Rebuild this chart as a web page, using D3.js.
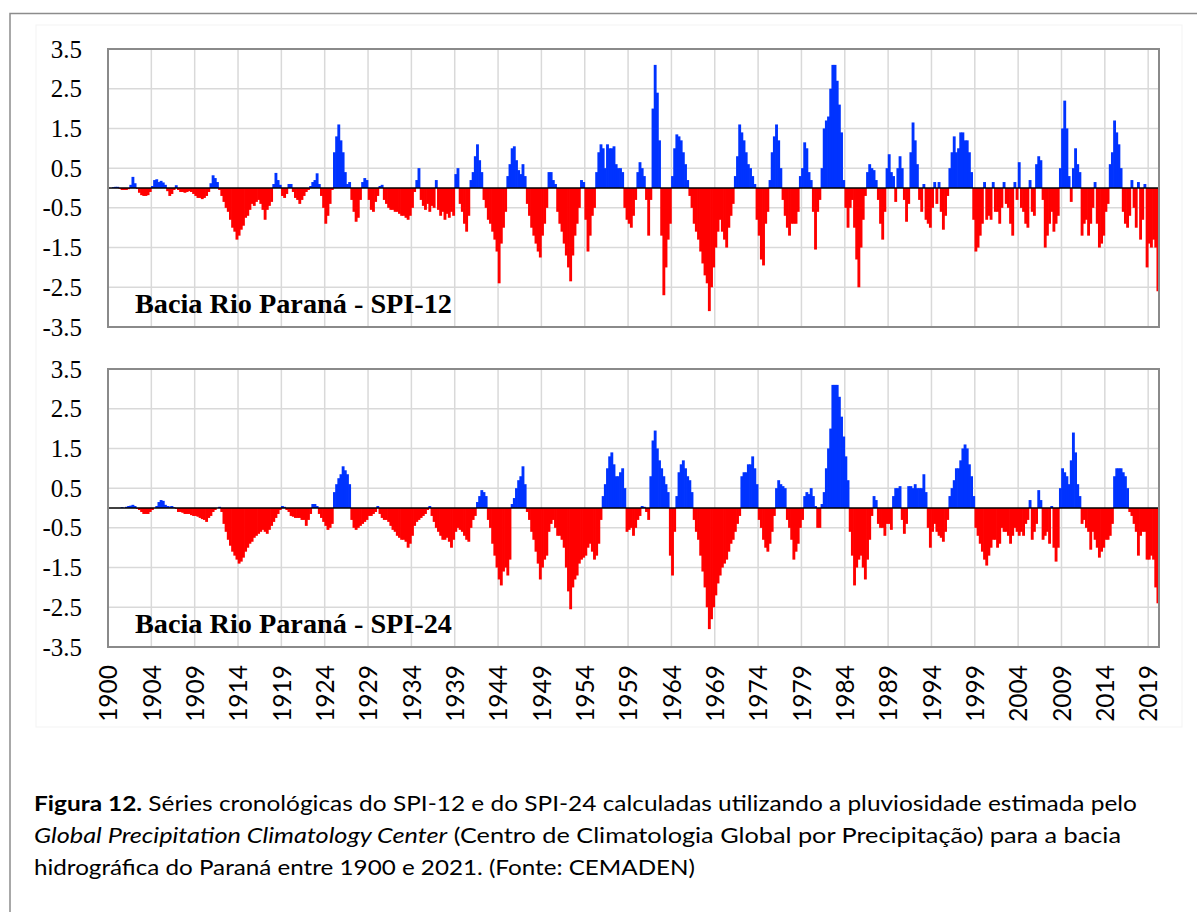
<!DOCTYPE html>
<html>
<head>
<meta charset="utf-8">
<script src="https://cdn.jsdelivr.net/npm/d3@7"></script>
<style>
  body { margin: 0; background: #fff; }
  svg { display: block; }
</style>
</head>
<body>
<svg id="fig" width="1197" height="912"></svg>
<script>
// ---- data -------------------------------------------------------------
// SPI values, one value per quarter starting Jan 1900 (rows = years)
const monthsPerValue = 3;

const panelTitles = ["Bacia Rio Paraná - SPI-12", "Bacia Rio Paraná - SPI-24"];

const yTickValues = [3.5, 2.5, 1.5, 0.5, -0.5, -1.5, -2.5, -3.5];

const xTickLabels = ["1900", "1904", "1909", "1914", "1919", "1924", "1929", "1934",
  "1939", "1944", "1949", "1954", "1959", "1964", "1969", "1974", "1979", "1984",
  "1989", "1994", "1999", "2004", "2009", "2014", "2019"];

const spi12 = [
  0, 0, 0.02, 0.03,   0.03, -0.02, -0.05, -0.05,   -0.05, -0.03, 0.08, 0.28,
  0.12, -0.02, -0.12, -0.18,   -0.2, -0.2, -0.18, -0.1,   0.05, 0.2, 0.22, 0.15,
  0.18, 0.14, 0.08, -0.08,   -0.2, -0.15, -0.05, 0.07,   -0.05, -0.1, -0.1, -0.12,
  -0.1, -0.08, -0.1, -0.15,   -0.2, -0.25, -0.25, -0.28,   -0.25, -0.2, -0.1, 0.12,
  0.32, 0.25, 0.15, -0.05,   -0.2, -0.35, -0.5, -0.6,   -0.8, -1.0, -1.1, -1.3,
  -1.2, -1.05, -0.95, -0.75,   -0.7, -0.55, -0.4, -0.45,   -0.35, -0.3, -0.4, -0.55,
  -0.8, -0.55, -0.45, -0.35,   0.1, 0.38, 0.2, 0.08,   -0.2, -0.25, -0.15, 0.1,
  0.1, -0.1, -0.25, -0.3,   -0.4, -0.3, -0.2, -0.1,   -0.05, 0.05, 0.15, 0.2,
  0.37, 0.1, -0.2, -0.5,   -0.9, -0.7, -0.4, -0.05,   0.9, 1.3, 1.6, 1.2,
  0.9, 0.4, 0.1, 0.15,   -0.3, -0.6, -0.85, -0.75,   -0.3, 0.15, 0.25, 0.2,
  -0.3, -0.55, -0.6, -0.35,   -0.2, 0.05, 0.08, -0.3,   -0.4, -0.5, -0.55, -0.55,
  -0.6, -0.6, -0.65, -0.7,   -0.7, -0.75, -0.8, -0.7,   -0.5, -0.1, 0.2, 0.5,
  -0.3, -0.45, -0.55, -0.4,   -0.6, -0.45, -0.5, 0.2,   -0.55, -0.7, -0.6, -0.8,
  -0.65, -0.75, -0.6, -0.7,   0.35, 0.5, -0.4, -0.6,   -0.9, -1.1, -0.7, 0.2,
  0.4, 0.8, 1.1, 0.7,   0.4, -0.3, -0.5, -0.8,   -0.9, -1.1, -1.3, -1.6,
  -2.4, -1.4, -1.0, -0.6,   0.3, 0.6, 1.0, 1.05,   0.7, 0.45, 0.35, 0.6,
  0.3, -0.4, -0.7, -1.0,   -1.2, -1.4, -1.6, -1.75,   -1.2, -0.9, -0.5, 0.4,
  0.4, 0.2, 0.1, -0.6,   -0.9, -1.1, -1.4, -1.7,   -2.0, -2.35, -1.7, -1.2,
  -0.9, -0.5, 0.2, 0.15,   -0.8, -1.6, -1.2, -0.7,   -0.5, 0.4, 0.9, 1.1,
  1.0, 0.5, 1.1, 1.0,   1.0, 1.05, 0.6, 0.5,   0.5, 0.4, -0.5, -0.8,
  -0.9, -1.0, -0.7, -0.3,   0.4, 0.65, 0.5, 0.3,   -0.3, -1.2, -0.3, 2.0,
  3.1, 2.4, 1.2, -1.2,   -2.7, -2.0, -1.3, -0.9,   0.3, 1.0, 1.35, 1.3,
  1.2, 0.9, 0.6, 0.2,   -0.2, -0.5, -0.9, -1.1,   -1.3, -1.6, -1.9, -2.2,
  -2.4, -3.1, -2.5, -2.0,   -1.5, -1.1, -0.8, -1.1,   -1.3, -1.5, -1.0, -0.7,
  -0.4, 0.3, 0.8, 1.6,   1.4, 1.2, 0.9, 0.6,   0.5, 0.3, 0.1, -0.8,
  -1.2, -1.8, -1.95, -0.9,   -0.6, 0.2, 0.9, 1.3,   1.6, 1.2, 0.5, -0.3,
  -0.7, -1.0, -1.2, -0.9,   -0.9, -0.9, -0.6, 0.3,   0.5, 1.15, 1.0, 0.4,
  0.2, -0.6, -1.55, -0.6,   -0.3, 0.5, 1.5, 1.7,   1.8, 2.5, 3.1, 3.1,
  2.7, 2.1, 1.4, 0.2,   -0.5, -1.0, -0.5, -0.3,   -1.0, -1.8, -2.5, -1.5,
  -0.8, -0.2, 0.4, 0.6,   0.5, 0.45, 0.2, -0.3,   -0.9, -1.3, -0.6, 0.5,
  0.85, 0.4, 0.3, -0.35,   0.5, 0.8, 0.5, -0.3,   -0.85, -0.4, 0.9, 1.65,
  1.2, 0.6, -0.3, -0.6,   0.1, -0.8, -0.9, -1.0,   -0.5, 0.15, -0.4, 0.15,
  -0.6, -1.05, -0.7, -0.2,   0.5, 0.9, 1.3, 0.9,   1.0, 1.4, 1.4, 1.2,
  1.2, 0.9, 0.4, -0.8,   -1.6, -1.5, -1.2, -0.9,   0.15, -0.8, -0.7, -0.8,
  0.15, -0.6, -0.6, -0.9,   -0.5, 0.15, -0.4, -0.5,   -0.9, -1.2, 0.15, -0.3,
  0.65, -0.5, -0.6, -0.9,   -1.0, 0.2, -0.6, -0.7,   0.6, 0.8, 0.7, -0.3,
  -1.5, -1.2, -0.9, -0.6,   -1.1, -0.9, -0.7, 0.5,   1.5, 2.2, 1.5, 0.3,
  -0.35, 0.5, 1.0, 0.6,   0.4, -1.2, -0.9, -0.8,   -1.2, -0.9, -0.5, 0.15,
  -0.9, -1.5, -1.4, -1.2,   -0.6, -0.4, 0.6, 0.9,   1.7, 1.4, 1.1, 0.5,
  -0.6, -0.9, -1.0, -0.7,   0.2, -0.5, -1.0, 0.15,   -1.3, -0.8, 0.1, -2.0,
  -1.4, -1.5, -1.3, -1.5,   -2.6
];

const spi24 = [
  0, 0, 0, 0,   0, 0, 0.02, 0,   0.03, 0.05, 0.06, 0.08,
  0.05, -0.02, -0.05, -0.1,   -0.15, -0.15, -0.15, -0.1,   -0.05, 0, 0.05, 0.15,
  0.2, 0.18, 0.08, 0.05,   0.04, 0.05, 0.02, -0.02,   -0.1, -0.1, -0.12, -0.15,
  -0.15, -0.15, -0.18, -0.2,   -0.2, -0.22, -0.25, -0.28,   -0.3, -0.35, -0.25, -0.2,
  -0.1, -0.05, 0, 0.03,   -0.1, -0.4, -0.6, -0.8,   -0.95, -1.1, -1.2, -1.3,
  -1.4, -1.35, -1.25, -1.1,   -1.0, -0.9, -0.85, -0.75,   -0.7, -0.65, -0.6, -0.55,
  -0.6, -0.65, -0.55, -0.45,   -0.35, -0.25, -0.15, -0.05,   0.05, 0.03, -0.05, -0.1,
  -0.2, -0.22, -0.25, -0.25,   -0.25, -0.3, -0.3, -0.45,   -0.3, -0.15, 0.1, 0.1,
  0.05, -0.15, -0.25, -0.35,   -0.45, -0.55, -0.5, -0.4,   0.4, 0.6, 0.75, 0.85,
  1.05, 0.95, 0.85, 0.6,   -0.3, -0.5, -0.55, -0.5,   -0.45, -0.4, -0.35, -0.3,
  -0.2, -0.2, -0.15, -0.1,   0.05, -0.15, -0.25, -0.3,   -0.3, -0.35, -0.45, -0.55,
  -0.6, -0.7, -0.75, -0.8,   -0.8, -0.85, -1.0, -0.9,   -0.7, -0.45, -0.35, -0.3,
  -0.25, -0.2, -0.15, -0.05,   0.05, -0.2, -0.35, -0.5,   -0.6, -0.7, -0.8, -0.8,
  -0.75, -0.85, -1.0, -0.8,   -0.6, -0.5, -0.55, -0.6,   -0.7, -0.8, -0.85, -0.5,
  -0.3, -0.2, 0.15, 0.3,   0.45, 0.4, 0.3, -0.3,   -0.5, -0.9, -1.2, -1.5,
  -1.8, -1.95, -1.6, -1.5,   -1.7, -1.3, 0.1, 0.25,   0.5, 0.7, 0.8, 1.05,
  0.6, -0.1, -0.3, -0.6,   -0.8, -1.1, -1.4, -1.8,   -1.5, -1.3, -1.2, -0.6,
  -0.4, -0.3, -0.5, -0.7,   -0.7, -0.8, -1.0, -1.5,   -2.1, -2.55, -2.0, -1.8,
  -1.7, -1.4, -1.3, -1.25,   -1.2, -1.0, -0.9, -1.1,   -1.3, -1.2, -0.9, -0.3,
  0.3, 0.6, 1.0, 1.3,   1.4, 1.1, 0.8, 0.8,   0.9, 1.0, 0.5, -0.6,
  -0.55, -0.5, -0.7, -0.5,   -0.3, -0.2, 0.05, 0.03,   -0.1, -0.3, 0.8, 1.7,
  1.95, 1.5, 1.2, 1.0,   0.8, 0.6, 0.4, -1.2,   -1.7, -0.6, 0.3, 0.9,
  1.1, 1.2, 1.0, 0.8,   0.7, 0.4, -0.3, -0.6,   -0.8, -1.2, -1.6, -2.0,
  -2.5, -3.05, -2.8, -2.5,   -2.2, -1.9, -1.7, -1.5,   -1.4, -1.3, -1.1, -0.9,
  -0.8, -0.6, -0.4, -0.2,   0.8, 0.9, 0.9, 1.1,   1.1, 1.3, 1.0, 0.6,
  -0.3, -0.5, -0.8, -1.0,   -1.1, -0.9, -0.6, -0.2,   0.5, 0.7, 0.6, 0.55,
  0.5, -0.3, -0.5, -0.8,   -1.3, -1.1, -0.9, -0.5,   -0.3, 0.3, 0.4, 0.35,
  0.5, 0.3, 0.05, -0.5,   -0.5, 0.1, 0.4, 1.0,   1.5, 2.0, 3.1, 3.1,
  3.1, 2.8, 2.3, 1.8,   1.3, 0.7, -0.6, -1.2,   -1.95, -1.5, -1.3, -1.2,
  -1.5, -1.8, -1.3, -0.8,   -0.2, 0.3, 0.2, -0.4,   -0.5, -0.5, -0.7, -0.4,
  -0.4, -0.55, 0.3, 0.5,   0.5, 0.55, -0.3, -0.65,   -0.4, 0.55, 0.55, 0.5,
  0.6, 0.5, 0.5, 0.5,   0.85, 0.4, -0.5, -1.0,   -0.6, -0.4, -0.6, -0.7,
  -0.75, -0.85, -0.6, -0.3,   0.3, 0.5, 0.7, 1.0,   1.0, 1.2, 1.5, 1.6,
  1.5, 1.1, 0.8, 0.3,   -0.5, -0.7, -0.9, -1.1,   -1.3, -1.45, -1.2, -1.0,
  -0.8, -0.8, -1.0, -0.9,   -0.5, -0.6, -0.6, -0.7,   -0.9, -0.7, -0.5, -0.6,
  -0.7, -0.6, -0.7, -0.4,   -0.3, 0.2, -0.8, -0.6,   -0.4, 0.45, 0.2, -0.8,
  -0.7, -0.6, -0.9, 0.05,   -1.0, -1.35, -1.0, 0.5,   1.0, 0.9, 0.8, 0.6,
  1.2, 1.9, 1.4, 0.6,   0.3, -0.4, -0.3, -0.5,   -0.6, -1.05, -0.6, -0.8,
  -1.0, -1.25, -1.1, -1.0,   -0.8, -0.8, -0.7, -0.4,   0.8, 1.0, 1.0, 1.0,
  0.9, 0.8, 0.5, -0.1,   -0.2, -0.4, -0.6, -1.2,   -0.7, -0.6, -0.6, -1.3,
  -1.3, -1.2, -1.3, -2.0,   -2.4
];

// ---- layout -----------------------------------------------------------
const W = 1197, H = 912;
const plotLeft = 108, plotRight = 1159;
const panelTops = [49, 369], panelH = 278;
const posColor = "#0033ff", negColor = "#ff0000";

const svg = d3.select("#fig");

// outer figure frame and faint chart-area box
svg.append("rect").attr("x", 10).attr("y", 13.5).attr("width", W + 20).attr("height", H + 20)
  .attr("fill", "none").attr("stroke", "#8c8c8c").attr("stroke-width", 1.5);
svg.append("rect").attr("x", 36).attr("y", 25).attr("width", 1146).attr("height", 702)
  .attr("fill", "none").attr("stroke", "#f3f3f3").attr("stroke-width", 1);

const nMonths = spi12.length * monthsPerValue;
const x = d3.scaleLinear().domain([0, nMonths]).range([plotLeft, plotRight]);
const gridMonths = d3.range(0, nMonths, 60);

function drawPanel(values, top, title, withXAxis) {
  const y = d3.scaleLinear().domain([-3.5, 3.5]).range([top + panelH, top]);
  const g = svg.append("g");

  // grid
  g.append("g").selectAll("line").data(yTickValues).join("line")
    .attr("x1", plotLeft).attr("x2", plotRight)
    .attr("y1", d => y(d)).attr("y2", d => y(d))
    .attr("stroke", "#d9d9d9").attr("stroke-width", 1.5);
  g.append("g").selectAll("line").data(gridMonths.slice(1)).join("line")
    .attr("x1", d => x(d)).attr("x2", d => x(d))
    .attr("y1", top).attr("y2", top + panelH)
    .attr("stroke", "#d9d9d9").attr("stroke-width", 1.5);

  // bars (slightly overlapped so neighbouring quarters read as one fill)
  g.append("g").selectAll("rect").data(values).join("rect")
    .attr("x", (d, i) => x(i * monthsPerValue) - 0.35)
    .attr("width", (d, i) => x((i + 1) * monthsPerValue) - x(i * monthsPerValue) + 0.7)
    .attr("y", d => y(Math.max(0, d)))
    .attr("height", d => Math.abs(y(d) - y(0)))
    .attr("fill", d => d >= 0 ? posColor : negColor);

  // zero line
  g.append("line").attr("x1", plotLeft).attr("x2", plotRight)
    .attr("y1", y(0)).attr("y2", y(0)).attr("stroke", "#000").attr("stroke-width", 1.6);

  // plot border
  g.append("rect").attr("x", plotLeft).attr("y", top)
    .attr("width", plotRight - plotLeft).attr("height", panelH)
    .attr("fill", "none").attr("stroke", "#8a8a8a").attr("stroke-width", 2);

  // y axis labels
  const ya = g.append("g").attr("transform", `translate(${plotLeft},0)`)
    .call(d3.axisLeft(y).tickValues(yTickValues).tickSize(0).tickPadding(26)
      .tickFormat(d => d.toFixed(1)));
  ya.select(".domain").remove();
  ya.selectAll("text").attr("font-family", "'Liberation Serif', 'DejaVu Serif', serif")
    .attr("font-size", 25).attr("fill", "#000");

  // panel title
  g.append("text").attr("x", 135).attr("y", top + panelH - 14)
    .attr("font-family", "'Liberation Serif', 'DejaVu Serif', serif")
    .attr("font-weight", "bold").attr("font-size", 28)
    .attr("textLength", 317).attr("lengthAdjust", "spacingAndGlyphs")
    .text(title);

  if (withXAxis) {
    const xa = g.append("g").attr("transform", `translate(0,${top + panelH})`)
      .call(d3.axisBottom(x).tickValues(gridMonths).tickSize(0)
        .tickFormat((d, i) => xTickLabels[i]));
    xa.select(".domain").remove();
    xa.selectAll("text")
      .attr("transform", "rotate(-90)")
      .attr("x", -18).attr("y", 0).attr("dy", "0.36em")
      .attr("text-anchor", "end")
      .attr("font-family", "Lato, 'Open Sans', sans-serif")
      .attr("font-size", 24.5).attr("fill", "#000");
  }
}

drawPanel(spi12, panelTops[0], panelTitles[0], false);
drawPanel(spi24, panelTops[1], panelTitles[1], true);

// ---- caption ----------------------------------------------------------
const cap = svg.append("g").attr("font-family", "Lato, 'Open Sans', sans-serif")
  .attr("font-size", 21).attr("fill", "#000");

const l1 = cap.append("text").attr("x", 34).attr("y", 811)
  .attr("textLength", 1103).attr("lengthAdjust", "spacingAndGlyphs");
l1.append("tspan").attr("font-weight", "bold").text("Figura 12.");
l1.append("tspan").text(" Séries cronológicas do SPI-12 e do SPI-24 calculadas utilizando a pluviosidade estimada pelo");

const l2 = cap.append("text").attr("x", 34).attr("y", 843)
  .attr("textLength", 1087).attr("lengthAdjust", "spacingAndGlyphs");
l2.append("tspan").attr("font-style", "italic").text("Global Precipitation Climatology Center");
l2.append("tspan").text(" (Centro de Climatologia Global por Precipitação) para a bacia");

cap.append("text").attr("x", 34).attr("y", 875)
  .attr("textLength", 661).attr("lengthAdjust", "spacingAndGlyphs")
  .text("hidrográfica do Paraná entre 1900 e 2021. (Fonte: CEMADEN)");
</script>
</body>
</html>
